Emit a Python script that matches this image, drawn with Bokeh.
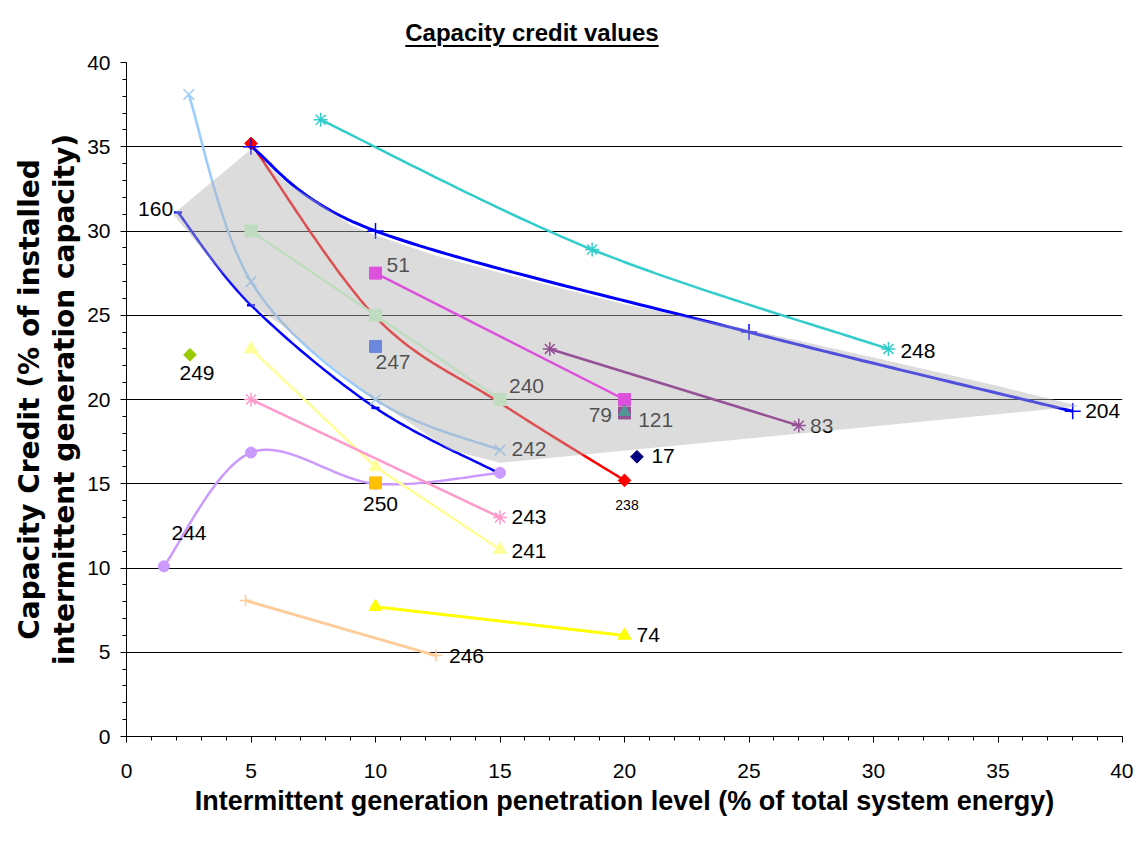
import numpy as np
from bokeh.plotting import figure
from bokeh.models import Range1d, SingleIntervalTicker, FixedTicker, Div, ColumnDataSource
from bokeh.layouts import column
from bokeh.core.properties import value
from bokeh.embed import file_html
from bokeh.resources import INLINE

# ---------------- data ----------------
s242_x = [2.5, 5, 10, 15];        s242_y = [38.1, 27.0, 20.0, 17.0]
s238_x = [5, 10, 15, 20];         s238_y = [35.2, 24.9, 19.8, 15.2]
s204_x = [5, 10, 25, 38];         s204_y = [35.0, 30.0, 24.0, 19.3]
s160_x = [2.07, 5, 10, 15];       s160_y = [31.1, 25.6, 19.5, 15.6]
s240_x = [5, 10, 15];             s240_y = [30.0, 25.0, 20.0]
s51_x = [10, 20];                 s51_y = [27.5, 20.0]
s83_x = [17, 27];                 s83_y = [23.0, 18.45]
s248_x = [7.8, 18.7, 30.6];       s248_y = [36.6, 28.9, 23.0]
s241_x = [5, 10, 15];             s241_y = [23.0, 16.0, 11.1]
s243_x = [5, 15];                 s243_y = [20.0, 13.0]
s244_x = [1.5, 5, 10, 15];        s244_y = [10.1, 16.85, 15.0, 15.65]
s246_x = [4.78, 12.43];           s246_y = [8.07, 4.8]
s74_x = [10, 20];                 s74_y = [7.7, 6.0]

p249 = (2.55, 22.65)
p247 = (10.0, 23.15)
p250 = (10.0, 15.05)
p79 = (20.0, 19.2)
p121 = (20.0, 19.25)
p17 = (20.5, 16.6)

# shaded range (grey overlay) vertices
shade_x = [1.87, 5.0, 6.4, 7.7, 9.0, 10.0, 12.4, 15.7, 20.0, 25.0, 30.0, 35.0, 38.3,
           15.0, 13.0, 10.0, 7.5, 6.2, 5.0, 3.5]
shade_y = [31.0, 34.85, 32.9, 31.7, 30.35, 29.75, 28.55, 27.25, 25.65, 24.15, 22.5, 20.8, 19.6,
           16.25, 17.0, 19.95, 22.85, 24.45, 25.6, 28.1]

lab_text = ["160", "51", "249", "247", "240", "242", "243", "241", "250", "79", "121",
            "17", "83", "248", "204", "244", "246", "74"]
lab_x = [1.87, 10.44, 2.83, 10.0, 15.36, 15.46, 15.46, 15.46, 10.2, 19.5, 20.55,
         21.08, 27.45, 31.08, 38.5, 2.51, 12.95, 20.48]
lab_y = [31.3, 27.98, 21.55, 22.2, 20.8, 17.09, 13.03, 11.0, 13.77, 19.1, 18.78,
         16.65, 18.45, 22.9, 19.3, 12.1, 4.8, 6.0]
lab_align = ["right", "left", "center", "left", "left", "left", "left", "left", "center",
             "right", "left", "left", "left", "left", "left", "center", "left", "left"]
small_text = ["238"]; small_x = [20.1]; small_y = [13.74]


def smooth(xs, ys, n=40):
    P = np.column_stack([xs, ys]).astype(float)
    P = np.vstack([P[0], P, P[-1]])
    t = np.linspace(0, 1, n)[:, None]
    h00 = 2 * t**3 - 3 * t**2 + 1
    h10 = t**3 - 2 * t**2 + t
    h01 = -2 * t**3 + 3 * t**2
    h11 = t**3 - t**2
    segs = []
    for i in range(1, len(P) - 2):
        p0, p1, p2, p3 = P[i - 1], P[i], P[i + 1], P[i + 2]
        m1 = (p2 - p0) / 2.0
        m2 = (p3 - p1) / 2.0
        segs.append(h00 * p1 + h10 * m1 + h01 * p2 + h11 * m2)
    c = np.vstack(segs)
    return c[:, 0], c[:, 1]


LABEL_FONT = value("Liberation Sans")

p = figure(width=1133, height=781, x_range=Range1d(0, 40), y_range=Range1d(0, 40),
           output_backend="svg", toolbar_location=None,
           min_border_left=126, min_border_right=11, min_border_top=14, min_border_bottom=93)
p.outline_line_color = None
p.background_fill_color = "white"
p.border_fill_color = "white"

p.xgrid.visible = False
p.ygrid.ticker = FixedTicker(ticks=[5, 10, 15, 20, 25, 30, 35, 40])
p.ygrid.grid_line_color = "black"
p.ygrid.grid_line_width = 1

for ax in (p.xaxis[0], p.yaxis[0]):
    ax.ticker = SingleIntervalTicker(interval=5, num_minor_ticks=5)
    ax.axis_line_color = "black"
    ax.axis_line_width = 1
    ax.major_tick_line_color = "black"
    ax.minor_tick_line_color = "black"
    ax.major_tick_in = 0
    ax.major_tick_out = 6
    ax.minor_tick_in = 0
    ax.minor_tick_out = 4
    ax.major_label_text_font = "Liberation Sans"
    ax.major_label_text_font_size = "21px"
    ax.major_label_text_color = "black"
    ax.axis_label_text_color = "black"
    ax.axis_label_text_font_style = "bold"

p.xaxis.axis_label = "Intermittent generation penetration level (% of total system energy)"
p.xaxis.axis_label_text_font = "Liberation Sans"
p.xaxis.axis_label_text_font_size = "27px"
p.xaxis.major_label_standoff = 21
p.xaxis.axis_label_standoff = 5

p.yaxis.axis_label = "Capacity Credit (% of installed\nintermittent generation capacity)"
p.yaxis.axis_label_text_font = "DejaVu Sans"
p.yaxis.axis_label_text_font_size = "28px"
p.yaxis.axis_label_text_line_height = 1.05
p.yaxis.major_label_standoff = 10
p.yaxis.axis_label_standoff = 3

LW = 2.5

# ---------------- lines ----------------
for xs, ys, col, w in [(s242_x, s242_y, "#99CCFF", LW), (s238_x, s238_y, "#FF0000", LW),
                       (s204_x, s204_y, "#0000FF", 3), (s160_x, s160_y, "#0000FF", LW),
                       (s248_x, s248_y, "#33CCCC", LW), (s244_x, s244_y, "#CC99FF", LW)]:
    cx, cy = smooth(xs, ys)
    p.line(cx, cy, line_color=col, line_width=w)

for xs, ys, col, w in [(s240_x, s240_y, "#CCFFCC", LW), (s51_x, s51_y, "#FF00FF", LW),
                       (s83_x, s83_y, "#800080", LW), (s241_x, s241_y, "#FFFF99", LW),
                       (s243_x, s243_y, "#FF99CC", LW), (s246_x, s246_y, "#FFCC99", 3),
                       (s74_x, s74_y, "#FFFF00", 3)]:
    p.line(xs, ys, line_color=col, line_width=w)

# ---------------- markers ----------------
p.scatter(s242_x, s242_y, marker="x", size=15, line_color="#99CCFF", line_width=1.5)
p.scatter([s238_x[0], s238_x[-1]], [s238_y[0], s238_y[-1]], marker="square", angle=np.pi / 4,
          size=9, fill_color="#FF0000", line_color="#FF0000")
p.scatter(s204_x, s204_y, marker="cross", size=16, line_color="#0000FF", line_width=1.5)
p.scatter(s160_x, s160_y, marker="dash", size=8, line_color="#0000FF", line_width=2.5)
p.scatter(s240_x, s240_y, marker="square", size=12, fill_color="#CCFFCC", line_color="#CCFFCC")
p.scatter(s51_x, s51_y, marker="square", size=12, fill_color="#FF00FF", line_color="#FF00FF")
p.scatter(s83_x, s83_y, marker="asterisk", size=14, line_color="#800080", line_width=1.5)
p.scatter(s248_x, s248_y, marker="asterisk", size=14, line_color="#33CCCC", line_width=1.5)
p.scatter(s241_x, s241_y, marker="triangle", size=13, fill_color="#FFFF99", line_color="#FFFF99")
p.scatter(s243_x, s243_y, marker="asterisk", size=14, line_color="#FF99CC", line_width=1.5)
p.scatter(s244_x, s244_y, marker="circle", size=11, fill_color="#CC99FF", line_color="#CC99FF")
p.scatter(s246_x, s246_y, marker="cross", size=12, line_color="#FFCC99", line_width=1.5)
p.scatter(s74_x, s74_y, marker="triangle", size=13, fill_color="#FFFF00", line_color="#FFFF00")
p.scatter([p249[0]], [p249[1]], marker="square", angle=np.pi / 4, size=9,
          fill_color="#99CC00", line_color="#99CC00")
p.scatter([p247[0]], [p247[1]], marker="square", size=12, fill_color="#3366FF", line_color="#3366FF")
p.scatter([p250[0]], [p250[1]], marker="square", size=12, fill_color="#FFC000", line_color="#FFC000")
p.scatter([p79[0]], [p79[1]], marker="square", size=12, fill_color="#800080", line_color="#800080")
p.scatter([p121[0]], [p121[1]], marker="triangle", size=12, fill_color="#008080", line_color="#008080")
p.scatter([p17[0]], [p17[1]], marker="square", angle=np.pi / 4, size=9,
          fill_color="#000080", line_color="#000080")

# ---------------- data labels ----------------
src = ColumnDataSource(dict(x=lab_x, y=lab_y, text=lab_text, align=lab_align))
p.text(x="x", y="y", text="text", text_align="align", text_baseline="middle", source=src,
       text_font=LABEL_FONT, text_font_size="21px", text_color="black")
p.text(x=small_x, y=small_y, text=small_text, text_align="center", text_baseline="middle",
       text_font=LABEL_FONT, text_font_size="14px", text_color="black")

# ---------------- grey overlay ----------------
p.patch(shade_x, shade_y, fill_color="#B2B2B2", fill_alpha=0.45, line_color=None)

title = Div(text=("<div style=\"width:1064px;text-align:center;padding-top:19px;"
                  "font-family:'Liberation Sans',Arial,sans-serif;font-weight:bold;font-size:24px;"
                  "line-height:28px;color:black;text-decoration:underline;"
                  "text-decoration-thickness:2px;text-underline-offset:4px;\">"
                  "Capacity credit values</div>"),
            width=1133, height=48, margin=(0, 0, 0, 0))

layout = column(title, p, spacing=0)
open("out.html", "w").write(file_html(layout, INLINE))
